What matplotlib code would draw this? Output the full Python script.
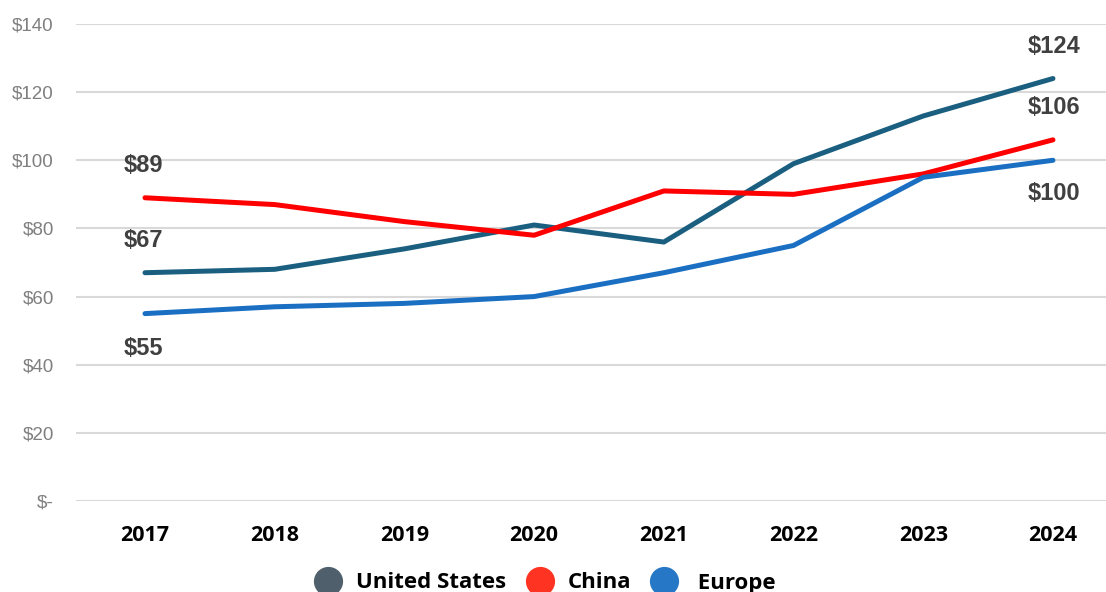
import matplotlib
matplotlib.use("Agg")
import matplotlib.pyplot as plt
from matplotlib.lines import Line2D

years = ["2017", "2018", "2019", "2020", "2021", "2022", "2023", "2024"]
united_states = [67, 68, 74, 81, 76, 99, 113, 124]
china = [89, 87, 82, 78, 91, 90, 96, 106]
europe = [55, 57, 58, 60, 67, 75, 95, 100]
y_ticks = [0, 20, 40, 60, 80, 100, 120, 140]
y_tick_labels = ["$-", "$20", "$40", "$60", "$80", "$100", "$120", "$140"]

series = [
    ("United States", united_states, "#1a5f80", "#4f5f6b"),
    ("China", china, "#ff0000", "#ff3322"),
    ("Europe", europe, "#1a6fc2", "#2677c6"),
]

fig = plt.figure(figsize=(11.06, 5.92), dpi=100)
ax = fig.add_axes([76 / 1106, 91 / 592, 1030 / 1106, 477 / 592])

x = list(range(len(years)))
for name, vals, color, _ in series:
    ax.plot(x, vals, color=color, lw=3.6, solid_joinstyle="round",
            solid_capstyle="round", clip_on=False, zorder=3)

ax.set_xlim(-0.532, 7.409)
ax.set_ylim(0, 140)
ax.set_yticks(y_ticks)
ax.set_yticklabels(y_tick_labels, fontfamily="Liberation Sans", fontsize=13.5,
                   color="#7f7f7f")
ax.set_xticks(x)
ax.set_xticklabels(years, fontfamily="Open Sans", fontweight="bold",
                   fontsize=15.5, color="black")
ax.tick_params(axis="both", length=0)
ax.tick_params(axis="x", pad=17)
ax.tick_params(axis="y", pad=16)
ax.grid(axis="y", color="#d9d9d9", lw=1.5)
ax.set_axisbelow(True)
for s in ax.spines.values():
    s.set_visible(False)

# value labels at the start and end of each series
label_style = dict(fontfamily="Liberation Sans", fontweight="bold", fontsize=17,
                   color="#404040", ha="center", va="center",
                   textcoords="offset points", annotation_clip=False)
ax.annotate(f"${china[0]}", (0, china[0]), xytext=(-1, 23), **label_style)
ax.annotate(f"${united_states[0]}", (0, united_states[0]), xytext=(-1, 23), **label_style)
ax.annotate(f"${europe[0]}", (0, europe[0]), xytext=(-1, -25), **label_style)
ax.annotate(f"${united_states[-1]}", (7, united_states[-1]), xytext=(1, 23), **label_style)
ax.annotate(f"${china[-1]}", (7, china[-1]), xytext=(1, 23), **label_style)
ax.annotate(f"${europe[-1]}", (7, europe[-1]), xytext=(1, -24), **label_style)

handles = [Line2D([], [], ls="none", marker="o", markersize=20,
                  markerfacecolor=mc, markeredgecolor=mc)
           for _, _, _, mc in series]
labels = ["United States", "China", " Europe"]
fig.legend(handles, labels, loc="center", bbox_to_anchor=(541 / 1106, 1 - 583 / 592),
           ncol=3, frameon=False, handletextpad=0.25, columnspacing=0.5,
           prop={"family": "Open Sans", "weight": "bold", "size": 16})

fig.savefig("out.png", dpi=100)
